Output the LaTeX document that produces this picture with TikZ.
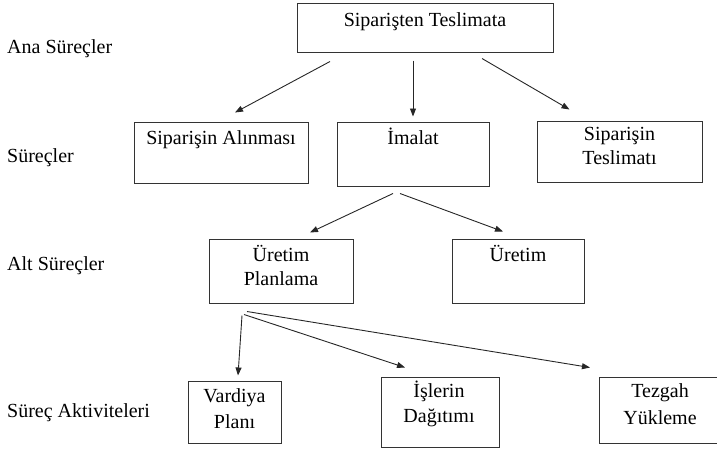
\documentclass[tikz,border=0pt]{standalone}
\usepackage{fontspec}
\setmainfont{Liberation Serif}
\usetikzlibrary{arrows.meta,calc}
\begin{document}
\begin{tikzpicture}[x=1pt,y=-1pt,
  box/.style={draw=black!80,line width=1pt,inner sep=0pt,rectangle},
  txt/.style={anchor=base,inner sep=0pt,align=center,font=\fontsize{20}{24}\selectfont},
  lbl/.style={anchor=base west,inner sep=0pt,font=\fontsize{20}{24}\selectfont},
  arr/.style={-{Triangle[length=8pt,width=6pt]},line width=0.9pt,draw=black!85}]
\useasboundingbox (0,0) rectangle (717,448);
\clip (0,0) rectangle (717,448);

% level labels
\node[lbl] (l1) at (7,53)  {Ana Süreçler};
\node[lbl] (l2) at (7,162) {Süreçler};
\node[lbl] (l3) at (7,270) {Alt Süreçler};
\node[lbl] (l4) at (7,417) {Süreç Aktiviteleri};

% boxes
\node[box,minimum width=256pt,minimum height=49pt] (top)   at (425,27.5) {};
\node[box,minimum width=174pt,minimum height=61pt] (alin)  at (221,152.5) {};
\node[box,minimum width=152pt,minimum height=64pt] (imal)  at (413,154) {};
\node[box,minimum width=165pt,minimum height=61pt] (tesl)  at (619.5,151.5) {};
\node[box,minimum width=144pt,minimum height=64pt] (plan)  at (281,271) {};
\node[box,minimum width=132pt,minimum height=64pt] (uret)  at (518,271) {};
\node[box,minimum width=93pt, minimum height=62pt] (vard)  at (234.5,412) {};
\node[box,minimum width=118pt,minimum height=70pt] (isle)  at (440,412) {};
\node[box,minimum width=122pt,minimum height=66pt] (tezg)  at (660,410) {};

% box texts (base anchor sits on the last line's baseline)
\node[txt] (ttop)  at ($(top.north)+(0,24)$)  {Siparişten Teslimata};
\node[txt] (talin) at ($(alin.north)+(0,23)$) {Siparişin Alınması};
\node[txt] (timal) at ($(imal.north)+(0,23)$) {İmalat};
\node[txt] (ttesl) at ($(tesl.north)+(0,44)$) {Siparişin\\Teslimatı};
\node[txt] (tplan) at ($(plan.north)+(0,47)$) {Üretim\\Planlama};
\node[txt] (turet) at ($(uret.north)+(0,23)$) {Üretim};
\node[txt,font=\fontsize{20}{26}\selectfont] (tvard) at ($(vard.north)+(0,48)$) {Vardiya\\Planı};
\node[txt,font=\fontsize{20}{25}\selectfont] (tisle) at ($(isle.north)+(-1,46)$) {İşlerin\\Dağıtımı};
\node[txt,font=\fontsize{20}{27}\selectfont] (ttezg) at ($(tezg.north)+(0,48)$) {Tezgah\\Yükleme};

% connectors
\draw[arr] ($(top.south)+(-95,9)$) -- ($(alin.north)+(14,-9)$);
\draw[arr] ($(top.south)+(-12,8)$) -- ($(imal.north)+(0,-5)$);
\draw[arr] ($(top.south)+(57,6)$)  -- ($(tesl.north)+(-50,-11)$);
\draw[arr] ($(imal.south)+(-20,7)$) -- ($(plan.north)+(29,-6)$);
\draw[arr] ($(imal.south)+(-13,7)$) -- ($(uret.north)+(-15,-7)$);
\draw[arr] ($(plan.south)+(-39,12)$) -- ($(vard.north)+(3.5,-5)$);
\draw[arr] ($(plan.south)+(-37,11)$) -- ($(isle.north)+(-35,-9)$);
\draw[arr] ($(plan.south)+(-34,8)$)  -- ($(tezg.north)+(-70,-9)$);
\end{tikzpicture}
\end{document}
